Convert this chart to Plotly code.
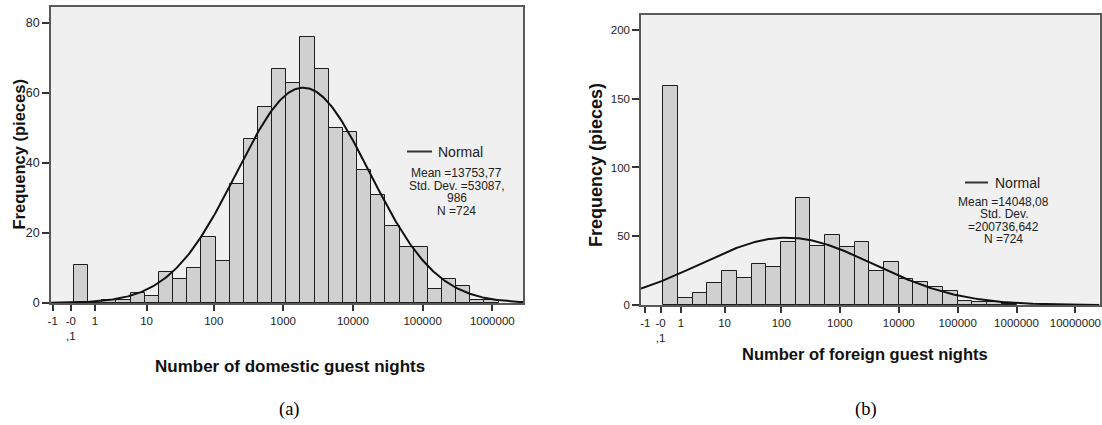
import numpy as np
import plotly.graph_objects as go

W, H = 1102, 425

# ---------------- data ----------------
# x axis is log10(guest nights + 1); histogram bins start at 0
DOM_BIN_WIDTH = 0.203
DOM_COUNTS = [11, 0, 1, 1, 3, 2, 9, 7, 10, 19, 12, 34, 47, 56, 67, 63, 76, 67,
              50, 49, 38, 31, 22, 16, 16, 4, 7, 5, 1, 1]
DOM_NORMAL = dict(mu=3.287, sigma=0.953, n=724)
DOM_STATS = ["Mean =13753,77", "Std. Dev. =53087,", "986", "N =724"]

FOR_BIN_WIDTH = 0.25
FOR_COUNTS = [159, 5, 9, 16, 25, 20, 30, 28, 46, 78, 43, 51, 42, 46, 25, 31,
              19, 17, 13, 10, 3, 2, 2, 1]
FOR_NORMAL = dict(mu=2.095, sigma=1.474, n=724)
FOR_STATS = ["Mean =14048,08", "Std. Dev.", "=200736,642", "N =724"]

DOM_TICK_LABELS = ["-1", "-0<br>,1", "1", "10", "100", "1000", "10000",
                   "100000", "1000000"]
DOM_TICK_U = [-0.306, -0.046, 0.301, 1.041, 2.004, 3.0, 4.0, 5.0, 6.0]
FOR_TICK_LABELS = DOM_TICK_LABELS + ["10000000"]
FOR_TICK_U = DOM_TICK_U + [7.0]

DOM_Y_TICKS = [0, 20, 40, 60, 80]
FOR_Y_TICKS = [0, 50, 100, 150, 200]

X_TITLES = ["Number of domestic guest nights", "Number of foreign guest nights"]
Y_TITLE = "Frequency (pieces)"
PANEL_LABELS = ["(a)", "(b)"]

# -------------- helpers --------------
def px(x):
    return x / W

def py(y):
    return 1 - y / H

def normal_curve(params, width, lo, hi):
    u = np.linspace(lo, hi, 400)
    s = params["sigma"]
    dens = np.exp(-0.5 * ((u - params["mu"]) / s) ** 2) / (s * np.sqrt(2 * np.pi))
    return u, params["n"] * width * dens

FONT = "Liberation Sans, Arial, sans-serif"
BAR_FILL = "#D0D0D0"
BAR_LINE = "#1E1E1E"
TXT = "#222222"

fig = go.Figure()

dom_x = [(i + 0.5) * DOM_BIN_WIDTH for i in range(len(DOM_COUNTS))]
for_x = [(i + 0.5) * FOR_BIN_WIDTH for i in range(len(FOR_COUNTS))]

DOM_XR = [-0.33, 6.44]
FOR_XR = [-0.379, 7.41]

fig.add_trace(go.Bar(x=dom_x, y=DOM_COUNTS, width=DOM_BIN_WIDTH,
                     marker=dict(color=BAR_FILL, line=dict(color=BAR_LINE, width=1)),
                     xaxis="x", yaxis="y", showlegend=False, hoverinfo="x+y"))
u, c = normal_curve(DOM_NORMAL, DOM_BIN_WIDTH, DOM_XR[0], DOM_XR[1])
fig.add_trace(go.Scatter(x=u, y=c, mode="lines", line=dict(color="#111111", width=2),
                         xaxis="x", yaxis="y", showlegend=False))

fig.add_trace(go.Bar(x=for_x, y=FOR_COUNTS, width=FOR_BIN_WIDTH,
                     marker=dict(color=BAR_FILL, line=dict(color=BAR_LINE, width=1)),
                     xaxis="x2", yaxis="y2", showlegend=False, hoverinfo="x+y"))
u2, c2 = normal_curve(FOR_NORMAL, FOR_BIN_WIDTH, FOR_XR[0], FOR_XR[1])
fig.add_trace(go.Scatter(x=u2, y=c2, mode="lines", line=dict(color="#111111", width=2),
                         xaxis="x2", yaxis="y2", showlegend=False))

axis_common = dict(showgrid=False, zeroline=False, showline=True, mirror=True,
                   linecolor="#5A5A5A", linewidth=1.5, ticks="outside",
                   tickcolor="#333333", tickwidth=1.5)

def tf(size):
    return dict(family=FONT, size=size, color=TXT)

fig.update_layout(
    template="none",
    font=dict(family=FONT, color=TXT),
    width=W, height=H, margin=dict(l=0, r=0, t=0, b=0),
    paper_bgcolor="white", plot_bgcolor="#F0F0F0", bargap=0,
    xaxis=dict(domain=[px(51), px(523)], range=DOM_XR, tickvals=DOM_TICK_U,
               ticktext=DOM_TICK_LABELS, ticklen=6, anchor="y",
               tickfont=tf(11.5), **axis_common),
    yaxis=dict(domain=[py(303), py(7)], range=[0, 84.57], tickvals=DOM_Y_TICKS,
               ticklen=7, anchor="x", tickfont=tf(12.5), **axis_common),
    xaxis2=dict(domain=[px(641), px(1099.5)], range=FOR_XR, tickvals=FOR_TICK_U,
                ticktext=FOR_TICK_LABELS, ticklen=6, anchor="y2",
                tickfont=tf(11.5), **axis_common),
    yaxis2=dict(domain=[py(305), py(15)], range=[0, 210.9], tickvals=FOR_Y_TICKS,
                ticklen=7, anchor="x2", tickfont=tf(11.5), **axis_common),
)

ann = []
# y titles
ann.append(dict(text="<b>" + Y_TITLE + "</b>", x=px(18.5), y=py(155), textangle=-90,
                font=dict(family=FONT, size=16.5, color="#111111")))
ann.append(dict(text="<b>" + Y_TITLE + "</b>", x=px(596), y=py(165), textangle=-90,
                font=dict(family=FONT, size=18, color="#111111")))
# x titles
ann.append(dict(text="<b>" + X_TITLES[0] + "</b>", x=px(290), y=py(366),
                font=dict(family=FONT, size=17, color="#111111")))
ann.append(dict(text="<b>" + X_TITLES[1] + "</b>", x=px(865), y=py(354),
                font=dict(family=FONT, size=16.5, color="#111111")))
# panel labels
ann.append(dict(text=PANEL_LABELS[0], x=px(289), y=py(409),
                font=dict(family="Liberation Serif, Times New Roman, serif", size=18.5, color="#000000")))
ann.append(dict(text=PANEL_LABELS[1], x=px(866), y=py(409),
                font=dict(family="Liberation Serif, Times New Roman, serif", size=18.5, color="#000000")))

# legends
shapes = []
legend_specs = [
    dict(line=(407, 432, 151.5), label_x=436, stats_x=456.7,
         stats_y=[172.7, 185.5, 198.3, 211], stats=DOM_STATS),
    dict(line=(965, 988, 182.5), label_x=993, stats_x=1003.5,
         stats_y=[201.7, 213.8, 226.7, 239.5], stats=FOR_STATS),
]
for spec in legend_specs:
    x0, x1, yl = spec["line"]
    shapes.append(dict(type="line", xref="paper", yref="paper", x0=px(x0), x1=px(x1),
                       y0=py(yl), y1=py(yl), line=dict(color="#333333", width=2)))
    ann.append(dict(text="Normal", x=px(spec["label_x"]), y=py(yl), xanchor="left",
                    font=dict(family=FONT, size=14, color=TXT)))
    for t, yy in zip(spec["stats"], spec["stats_y"]):
        ann.append(dict(text=t, x=px(spec["stats_x"]), y=py(yy),
                        font=dict(family=FONT, size=12, color=TXT)))

for a in ann:
    a.setdefault("xanchor", "center")
    a.setdefault("yanchor", "middle")
    a.update(xref="paper", yref="paper", showarrow=False)

fig.update_layout(annotations=ann, shapes=shapes)
fig.write_html("out.html")
